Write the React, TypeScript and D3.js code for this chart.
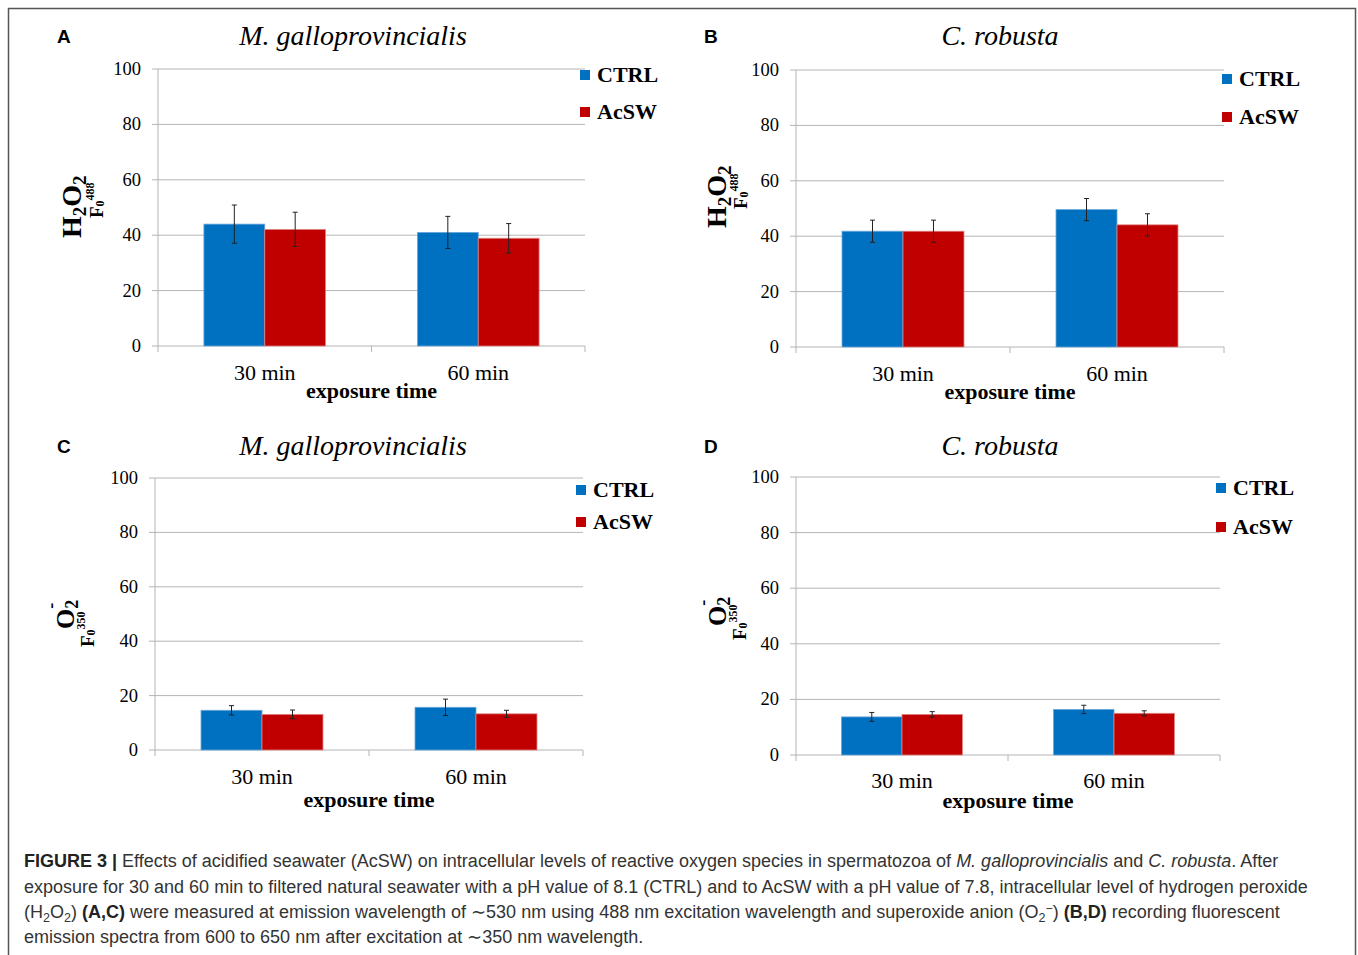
import React from 'react';
import * as d3 from 'd3';

const categories = ['30 min', '60 min'];
const seriesNames = ['CTRL', 'AcSW'];
const yTicks = [0, 20, 40, 60, 80, 100];

// H2O2 (panels A, B)
const musselH2o2Ctrl = [44, 41];
const musselH2o2Acsw = [42.1, 38.9];
const musselH2o2CtrlErr = [6.9, 5.8];
const musselH2o2AcswErr = [6.2, 5.3];

const cionaH2o2Ctrl = [41.8, 49.6];
const cionaH2o2Acsw = [41.8, 44.1];
const cionaH2o2CtrlErr = [4, 4];
const cionaH2o2AcswErr = [4, 4];

// O2- (panels C, D)
const musselO2Ctrl = [14.6, 15.7];
const musselO2Acsw = [13.1, 13.3];
const musselO2CtrlErr = [1.7, 3.0];
const musselO2AcswErr = [1.6, 1.3];

const cionaO2Ctrl = [13.7, 16.4];
const cionaO2Acsw = [14.6, 15.0];
const cionaO2CtrlErr = [1.6, 1.5];
const cionaO2AcswErr = [1.0, 0.9];

const colors = ['#0070C0', '#C00000'];
const strokes = ['#6aa7da', '#e08585'];
const gridColor = '#b4b4b4';
const serif = '"Liberation Serif", "Times New Roman", serif';
const sans = '"Liberation Sans", Arial, sans-serif';

const panels = [
    {
        letter: 'A', title: 'M. galloprovincialis', kind: 'h2o2',
        x0: 158, x1: 585, yTop: 69, yBot: 346,
        titleX: 353, titleY: 45, letterX: 57, letterY: 43,
        legendX: 580, legendY: [75, 112], catY: 380, expY: 398,
        yt: { x: 81, y: 238, dx: 20, dy: 22 },
        values: [musselH2o2Ctrl, musselH2o2Acsw], errors: [musselH2o2CtrlErr, musselH2o2AcswErr]
    },
    {
        letter: 'B', title: 'C. robusta', kind: 'h2o2',
        x0: 796, x1: 1224, yTop: 70, yBot: 347,
        titleX: 1000, titleY: 45, letterX: 704, letterY: 43,
        legendX: 1222, legendY: [79, 117], catY: 381, expY: 399,
        yt: { x: 726, y: 228, dx: 19, dy: 21 },
        values: [cionaH2o2Ctrl, cionaH2o2Acsw], errors: [cionaH2o2CtrlErr, cionaH2o2AcswErr]
    },
    {
        letter: 'C', title: 'M. galloprovincialis', kind: 'o2',
        x0: 155, x1: 583, yTop: 478, yBot: 750,
        titleX: 353, titleY: 455, letterX: 57, letterY: 453,
        legendX: 576, legendY: [490, 522], catY: 784, expY: 807,
        yt: { x: 74, y: 629, dx: -18, dy: 20 },
        values: [musselO2Ctrl, musselO2Acsw], errors: [musselO2CtrlErr, musselO2AcswErr]
    },
    {
        letter: 'D', title: 'C. robusta', kind: 'o2',
        x0: 796, x1: 1220, yTop: 477, yBot: 755,
        titleX: 1000, titleY: 455, letterX: 704, letterY: 453,
        legendX: 1216, legendY: [488, 527], catY: 788, expY: 808,
        yt: { x: 726, y: 626, dx: -14, dy: 20 },
        values: [cionaO2Ctrl, cionaO2Acsw], errors: [cionaO2CtrlErr, cionaO2AcswErr]
    }
];

const YTitle = ({ kind, x, y, dx, dy }) => (
    <g transform={`translate(${x},${y}) rotate(-90)`} fontFamily={serif} fontWeight="bold" fill="#000">
        {kind === 'h2o2' ? (
            <text x={0} y={0} fontSize={28}>
                <tspan>H</tspan>
                <tspan fontSize={19} dy={5}>2</tspan>
                <tspan dy={-5}>O</tspan>
                <tspan fontSize={19} dy={5}>2</tspan>
            </text>
        ) : (
            <text x={0} y={0} fontSize={26}>
                <tspan>O</tspan>
                <tspan fontSize={18} dy={4}>2</tspan>
                <tspan fontSize={18} dx={-9} dy={-21}>-</tspan>
            </text>
        )}
        <text x={dx} y={dy} fontSize={19}>
            <tspan>F</tspan>
            <tspan fontSize={12} dy={1}>0</tspan>
            <tspan fontSize={12} dy={-10}>{kind === 'h2o2' ? '488' : '350'}</tspan>
        </text>
    </g>
);

const Panel = ({ p }) => {
    const y = d3.scaleLinear().domain([0, 100]).range([p.yBot, p.yTop]);
    const x = d3.scaleBand().domain(categories).range([p.x0, p.x1]).paddingInner(0.43).paddingOuter(0.215);
    const xs = d3.scaleBand().domain(seriesNames).range([0, x.bandwidth()]);
    const step = x.step();
    const bounds = d3.range(categories.length + 1).map(i => p.x0 + i * step);

    return (
        <g>
            <text x={p.letterX} y={p.letterY} fontFamily={sans} fontWeight="bold" fontSize={19}>{p.letter}</text>
            <text x={p.titleX} y={p.titleY} textAnchor="middle" fontFamily={serif} fontStyle="italic" fontSize={28}>{p.title}</text>

            {yTicks.map(t => (
                <g key={t}>
                    <line x1={p.x0 - 6} x2={p.x1} y1={y(t)} y2={y(t)} stroke={gridColor} strokeWidth={1} />
                    <text x={p.x0 - 17} y={y(t) + 6} textAnchor="end" fontFamily={serif} fontSize={18.5}>{t}</text>
                </g>
            ))}
            <line x1={p.x0} x2={p.x0} y1={p.yTop} y2={p.yBot} stroke={gridColor} strokeWidth={1} />
            {bounds.map((b, i) => (
                <line key={i} x1={b} x2={b} y1={p.yBot} y2={p.yBot + 6} stroke={gridColor} strokeWidth={1} />
            ))}

            {categories.map((c, ci) => seriesNames.map((s, si) => {
                const v = p.values[si][ci];
                const e = p.errors[si][ci];
                const bx = x(c) + xs(s);
                const cx = bx + xs.bandwidth() / 2;
                return (
                    <g key={c + s}>
                        <rect x={bx} y={y(v)} width={xs.bandwidth()} height={y(0) - y(v)}
                            fill={colors[si]} stroke={strokes[si]} strokeWidth={0.8} />
                        <line x1={cx} x2={cx} y1={y(v + e)} y2={y(v - e)} stroke="#222" strokeWidth={1} />
                        <line x1={cx - 2.5} x2={cx + 2.5} y1={y(v + e)} y2={y(v + e)} stroke="#222" strokeWidth={1} />
                        <line x1={cx - 2.5} x2={cx + 2.5} y1={y(v - e)} y2={y(v - e)} stroke="#222" strokeWidth={1} />
                    </g>
                );
            }))}

            {categories.map(c => (
                <text key={c} x={x(c) + x.bandwidth() / 2} y={p.catY} textAnchor="middle" fontFamily={serif} fontSize={22}>{c}</text>
            ))}
            <text x={(p.x0 + p.x1) / 2} y={p.expY} textAnchor="middle" fontFamily={serif} fontWeight="bold" fontSize={22}>exposure time</text>

            {seriesNames.map((s, si) => (
                <g key={s}>
                    <rect x={p.legendX} y={p.legendY[si] - 5} width={10} height={10} fill={colors[si]} />
                    <text x={p.legendX + 17} y={p.legendY[si] + 7} fontFamily={serif} fontWeight="bold" fontSize={22}>{s}</text>
                </g>
            ))}

            <YTitle kind={p.kind} {...p.yt} />
        </g>
    );
};

const Caption = () => (
    <g fontFamily={sans} fontSize={18} fill="#333">
        <text x={24} y={867}>
            <tspan fontWeight="bold" fill="#222">FIGURE 3 | </tspan>
            <tspan>Effects of acidified seawater (AcSW) on intracellular levels of reactive oxygen species in spermatozoa of </tspan>
            <tspan fontStyle="italic">M. galloprovincialis</tspan>
            <tspan> and </tspan>
            <tspan fontStyle="italic">C. robusta</tspan>
            <tspan>. After</tspan>
        </text>
        <text x={24} y={893}>
            exposure for 30 and 60 min to filtered natural seawater with a pH value of 8.1 (CTRL) and to AcSW with a pH value of 7.8, intracellular level of hydrogen peroxide
        </text>
        <text x={24} y={918}>
            <tspan>(H</tspan>
            <tspan fontSize={12.5} dy={4}>2</tspan>
            <tspan dy={-4}>O</tspan>
            <tspan fontSize={12.5} dy={4}>2</tspan>
            <tspan dy={-4}>) </tspan>
            <tspan fontWeight="bold" fill="#222">(A,C)</tspan>
            <tspan> were measured at emission wavelength of ∼530 nm using 488 nm excitation wavelength and superoxide anion (O</tspan>
            <tspan fontSize={12.5} dy={4}>2</tspan>
            <tspan fontSize={12.5} dy={-9}>−</tspan>
            <tspan dy={5}>) </tspan>
            <tspan fontWeight="bold" fill="#222">(B,D)</tspan>
            <tspan> recording fluorescent</tspan>
        </text>
        <text x={24} y={943}>emission spectra from 600 to 650 nm after excitation at ∼350 nm wavelength.</text>
    </g>
);

const App = () => {
    const width = 1358;
    const height = 955;
    return (
        <svg width={width} height={height} viewBox={`0 0 ${width} ${height}`}
            style={{ position: 'absolute', left: 0, top: 0, display: 'block', background: '#fff' }}>
            <rect x={0} y={0} width={width} height={height} fill="#fff" />
            <rect x={8.5} y={8.5} width={1347} height={960} fill="none" stroke="#555" strokeWidth={1.5} />
            {panels.map(p => <Panel key={p.letter} p={p} />)}
            <Caption />
        </svg>
    );
};

export default App;
